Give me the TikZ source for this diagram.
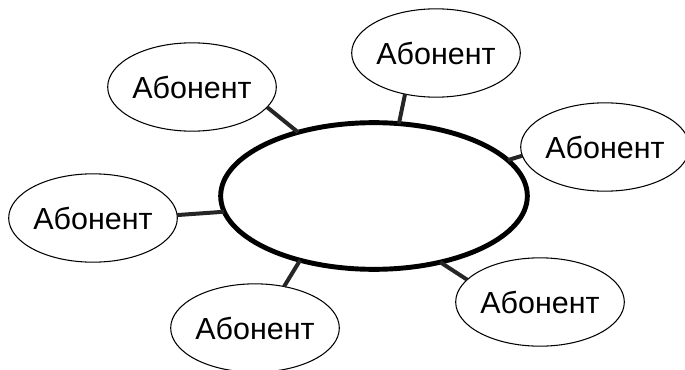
\documentclass[tikz,border=0pt]{standalone}
\usepackage{fontspec}
\setmainfont{Liberation Sans}
\usetikzlibrary{shapes.geometric}

\begin{document}
\begin{tikzpicture}[x=0.03cm,y=-0.03cm,
  abonent/.style={draw,ellipse,line width=0.9pt,inner sep=0pt,outer sep=0pt,
    minimum width=5cm,minimum height=2.65cm,font=\fontsize{26}{30}\selectfont},
  hub/.style={draw,ellipse,line width=4.2pt,fill=white,outer sep=0pt,
    minimum width=9.2cm,minimum height=4.4cm},
  link/.style={line width=3.4pt,color=black!85}]
\useasboundingbox (0,0) rectangle (685,369);

% central ring
\node[hub] (hub) at (374,196) {};

% subscribers
\node[abonent] (ab1) at (192,87) {Абонент};
\node[abonent] (ab2) at (436,53) {Абонент};
\node[abonent] (ab3) at (605,147) {Абонент};
\node[abonent] (ab4) at (93,218) {Абонент};
\node[abonent] (ab5) at (255,328) {Абонент};
\node[abonent] (ab6) at (540,302) {Абонент};

% links to the ring
\draw[link] (hub.140) -- (ab1.-15);
\draw[link] (hub.71) -- (ab2.-127);
\draw[link] (hub.15) -- (ab3.186);
\draw[link] (hub.186) -- (ab4.2);
\draw[link] (hub.221) -- (ab5.55);
\draw[link] (hub.315) -- (ab6.163);

\end{tikzpicture}
\end{document}
